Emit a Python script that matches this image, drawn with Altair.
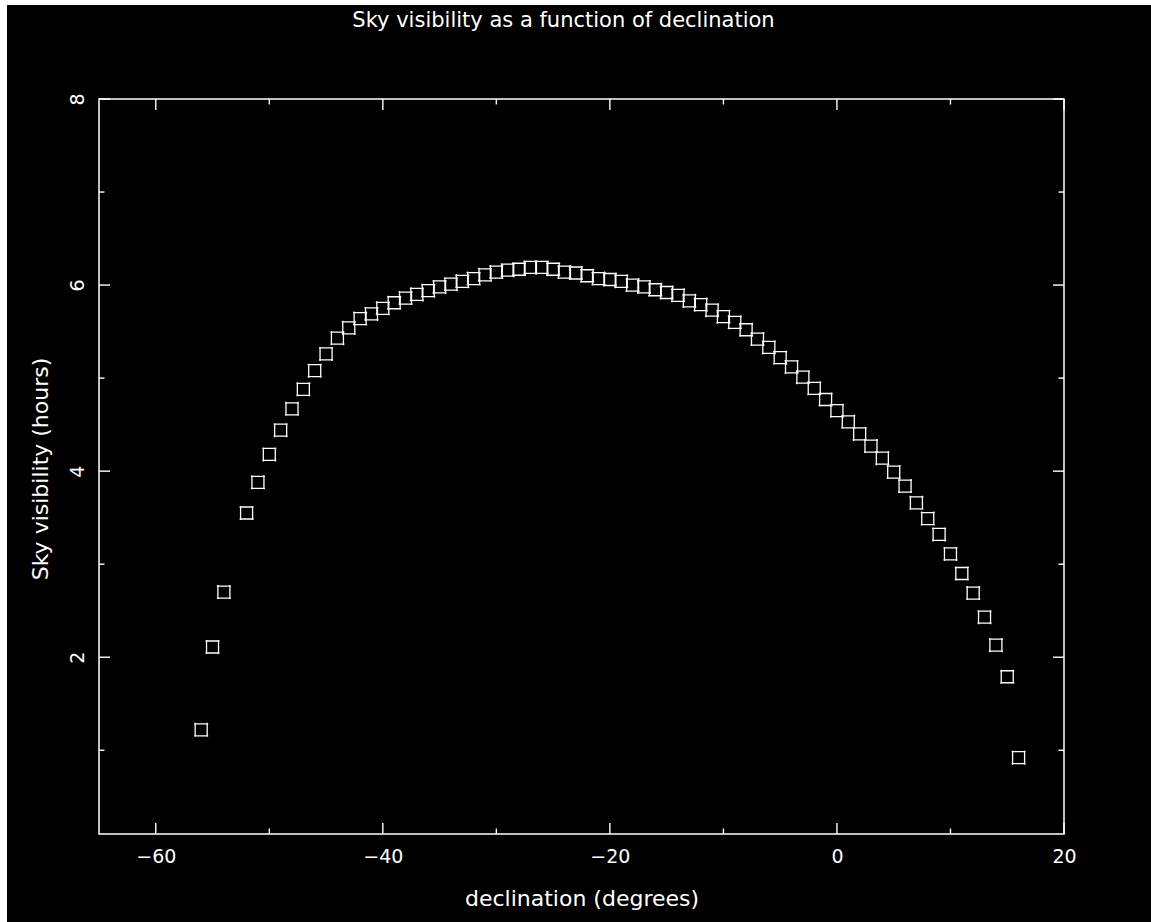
import altair as alt
import pandas as pd

# ---- data ----
declination = [-56, -55, -54, -52, -51, -50, -49, -48, -47, -46, -45, -44, -43,
               -42, -41, -40, -39, -38, -37, -36, -35, -34, -33, -32, -31, -30,
               -29, -28, -27, -26, -25, -24, -23, -22, -21, -20, -19, -18, -17,
               -16, -15, -14, -13, -12, -11, -10, -9, -8, -7, -6, -5, -4, -3,
               -2, -1, 0, 1, 2, 3, 4, 5, 6, 7, 8, 9, 10, 11, 12, 13, 14, 15, 16]
visibility = [1.22, 2.11, 2.70, 3.55, 3.88, 4.18, 4.44, 4.67, 4.88, 5.08, 5.26, 5.43, 5.54,
              5.64, 5.69, 5.75, 5.81, 5.86, 5.90, 5.94, 5.98, 6.01, 6.04, 6.07, 6.11, 6.14,
              6.16, 6.17, 6.19, 6.19, 6.17, 6.14, 6.13, 6.10, 6.07, 6.06, 6.04, 6.00, 5.98,
              5.95, 5.92, 5.89, 5.83, 5.79, 5.73, 5.66, 5.60, 5.52, 5.42, 5.33, 5.22, 5.12, 5.01,
              4.89, 4.77, 4.65, 4.53, 4.40, 4.27, 4.14, 3.99, 3.84, 3.66, 3.49, 3.32, 3.11, 2.90,
              2.69, 2.43, 2.13, 1.79, 0.92]

x_major = [-60, -40, -20, 0, 20]
x_minor = [-50, -30, -10, 10]
y_major = [2, 4, 6, 8]
y_minor = [1, 3, 5, 7]

title_text = "Sky visibility as a function of declination"
x_title = "declination (degrees)"
y_title = "Sky visibility (hours)"

# ---- styling ----
W, H = 965, 735
FG = "#ffffff"
FONT = "DejaVu Sans"
MAJ, MIN = 11, 5.5
TICKW = 1.4

xscale = alt.Scale(domain=[-65, 20], nice=False, zero=False)
yscale = alt.Scale(domain=[0.1, 8.0], nice=False, zero=False)

xaxis = alt.Axis(
    title=x_title, values=x_major, domain=False, ticks=False, tickSize=0,
    grid=False, labelFont=FONT, labelFontSize=19, labelColor=FG,
    labelBaseline="alphabetic", labelPadding=28, labelFlush=False,
    titleFont=FONT, titleFontSize=22, titleFontWeight="normal", titleColor=FG,
    titleBaseline="alphabetic", titleY=71, zindex=1)
yaxis = alt.Axis(
    title=y_title, values=y_major, domain=False, ticks=False, tickSize=0,
    grid=False, labelFont=FONT, labelFontSize=19, labelColor=FG,
    labelAngle=270, labelAlign="center", labelBaseline="alphabetic",
    labelPadding=16, labelFlush=False,
    titleFont=FONT, titleFontSize=22, titleFontWeight="normal", titleColor=FG,
    titleAngle=270, titleAlign="center", titleBaseline="alphabetic",
    titleX=-52, titleY=H / 2 + 2, zindex=1)

one = pd.DataFrame({"k": [0]})
df = pd.DataFrame({"dec": declination, "vis": visibility})

bg = alt.Chart(one).mark_rect(color="black").encode(
    x=alt.value(-92), x2=alt.value(W + 87), y=alt.value(-94), y2=alt.value(H + 88)
)

frame = alt.Chart(one).mark_rect(filled=False, stroke=FG, strokeWidth=1.5).encode(
    x=alt.value(0), x2=alt.value(W), y=alt.value(0), y2=alt.value(H)
)

title = alt.Chart(one).mark_text(
    font=FONT, fontSize=21, color=FG, align="center", baseline="alphabetic"
).encode(x=alt.value(W / 2 - 18), y=alt.value(27 - 99), text=alt.value(title_text))


def xticks(vals, length):
    d = pd.DataFrame({"v": vals})
    x = alt.X("v:Q", scale=xscale, axis=xaxis)
    bottom = alt.Chart(d).mark_rule(color=FG, strokeWidth=TICKW).encode(
        x=x, y=alt.value(H), y2=alt.value(H - length))
    top = alt.Chart(d).mark_rule(color=FG, strokeWidth=TICKW).encode(
        x=x, y=alt.value(0), y2=alt.value(length))
    return [bottom, top]


def yticks(vals, length):
    d = pd.DataFrame({"v": vals})
    y = alt.Y("v:Q", scale=yscale, axis=yaxis)
    left = alt.Chart(d).mark_rule(color=FG, strokeWidth=TICKW).encode(
        y=y, x=alt.value(0), x2=alt.value(length))
    right = alt.Chart(d).mark_rule(color=FG, strokeWidth=TICKW).encode(
        y=y, x=alt.value(W), x2=alt.value(W - length))
    return [left, right]


SYMBOL = "M-1.17,-1H1.17M1,-1.17V1.17M1.17,1H-1.17M-1,1.17V-1.17"

points = alt.Chart(df).mark_point(
    shape=SYMBOL, size=144, filled=False, stroke=FG, strokeWidth=1.3, opacity=1
).encode(
    x=alt.X("dec:Q", scale=xscale, axis=xaxis),
    y=alt.Y("vis:Q", scale=yscale, axis=yaxis),
)

layers = [bg, frame, title] + xticks(x_major, MAJ) + xticks(x_minor, MIN) \
    + yticks(y_major, MAJ) + yticks(y_minor, MIN) + [points]

chart = alt.layer(*layers).properties(
    width=W, height=H, autosize="none",
    padding={"left": 99, "top": 99, "right": 87, "bottom": 88},
    background="white",
).configure_view(stroke=None)

chart.save("out.html", embed_options={"renderer": "svg", "actions": False})
